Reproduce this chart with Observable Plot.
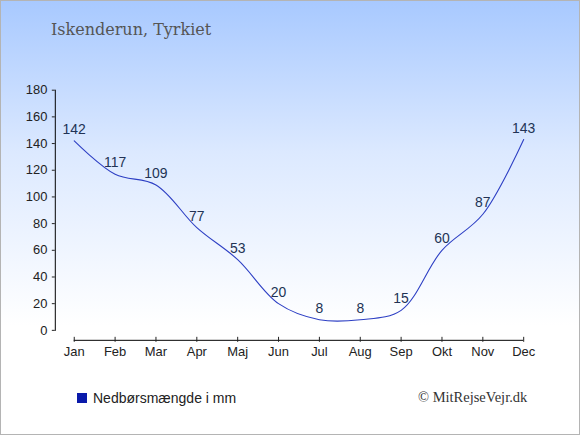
<!DOCTYPE html>
<html>
<head>
<meta charset="utf-8">
<script src="https://cdn.jsdelivr.net/npm/d3@7"></script>
<script src="https://cdn.jsdelivr.net/npm/@observablehq/plot@0.6"></script>
<style>
  html, body { margin: 0; padding: 0; }
  #wrap {
    position: relative; width: 578px; height: 433px;
    border: 1px solid #b4b4b4;
    background: linear-gradient(to bottom, #a8c9ff 0%, #dce9ff 35%, #ffffff 75%, #ffffff 100%);
    overflow: hidden;
  }
  #wrap svg { position: absolute; left: -1px; top: -1px; background: transparent; }
  .title { position: absolute; left: 50px; top: 19px; font-family: "DejaVu Serif", serif; font-size: 16px; color: #555; }
  .legend { position: absolute; left: 76px; top: 389px; font-family: "Liberation Sans", Arial, sans-serif; font-size: 14px; color: #222; display: flex; align-items: center; }
  .legend .sw { width: 10px; height: 10px; background: #0a1aaa; margin-right: 6px; }
  .copy { position: absolute; left: 417px; top: 388px; font-family: "Liberation Serif", serif; font-size: 14.5px; color: #333; }
</style>
</head>
<body>
<div id="wrap">
  <div class="title">Iskenderun, Tyrkiet</div>
  <div class="legend"><div class="sw"></div>Nedbørsmængde i mm</div>
  <div class="copy">© MitRejseVejr.dk</div>
</div>
<script>
const months = ["Jan","Feb","Mar","Apr","Maj","Jun","Jul","Aug","Sep","Okt","Nov","Dec"];
const rain = [142,117,109,77,53,20,8,8,15,60,87,143];
const yTicks = [0,20,40,60,80,100,120,140,160,180];

const data = months.map((m, i) => ({month: m, value: rain[i]}));

const chart = Plot.plot({
  width: 580,
  height: 435,
  marginTop: 90,
  marginBottom: 104,
  marginLeft: 55,
  marginRight: 55,
  style: {background: "transparent", fontFamily: "'Liberation Sans', Arial, sans-serif", fontSize: "13px", color: "#222"},
  x: {type: "point", domain: months, range: [74, 525], padding: 0},
  y: {domain: [0, 180], range: [331, 90]},
  marks: [
    Plot.frame({anchor: "left", stroke: "#000"}),
    Plot.axisY({ticks: yTicks, tickSize: 3, tickPadding: 5, tickFormat: d => d, label: null, fontSize: 13}),
    Plot.ruleY([0], {x1: () => months[0], x2: () => months[months.length - 1], dy: 10, stroke: "#000"}),
    Plot.axisX({tickSize: 5, dy: 7, tickPadding: 4, label: null, fontSize: 13}),
    Plot.line(data, {x: "month", y: "value", curve: "catmull-rom", stroke: "#2d3fc4", strokeWidth: 1.1}),
    Plot.text(data, {x: "month", y: "value", text: d => String(d.value), lineAnchor: "bottom", dy: -7, fill: "#223355", fontSize: 14})
  ]
});
document.getElementById("wrap").appendChild(chart);
</script>
</body>
</html>
